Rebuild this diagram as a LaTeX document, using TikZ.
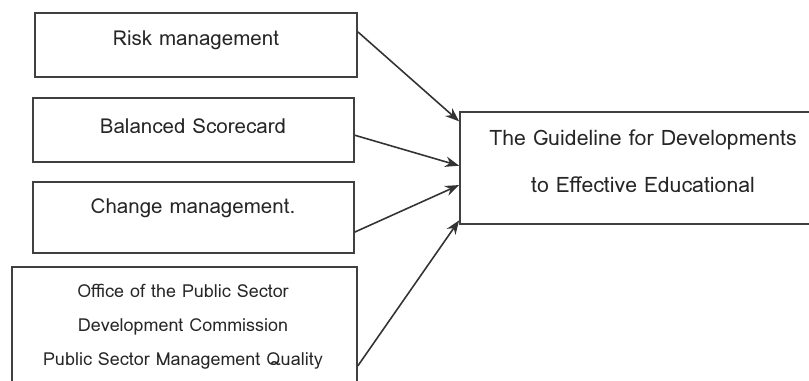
\documentclass[tikz,border=0pt]{standalone}
\usepackage{fontspec}
\setmainfont{Loma}
\usepackage{tikz}
\usetikzlibrary{calc,arrows.meta}

\begin{document}
\begin{tikzpicture}[x=0.02cm,y=-0.02cm,>={Stealth[length=8pt,width=6pt]},
  box/.style={rectangle,draw=black!75,line width=1pt},
  txt/.style={text=black!85,font=\fontsize{11.7}{13}\selectfont},
  link/.style={->,draw=black!80,line width=0.9pt}]
\useasboundingbox (0,0) rectangle (809,381);
% input boxes
\node[box,minimum width=6.44cm,minimum height=1.28cm] (risk) at (196,45) {};
\node[box,minimum width=6.42cm,minimum height=1.28cm] (bsc) at (193.5,130) {};
\node[box,minimum width=6.42cm,minimum height=1.42cm] (change) at (193.5,217.5) {};
\node[box,minimum width=6.9cm,minimum height=2.34cm] (opdc) at (184.5,325.5) {};
% target box
\node[box,minimum width=7.04cm,minimum height=2.24cm] (goal) at (636,168) {};
% texts
\node[txt] (risktxt) at (196,40) {Risk management};
\node[txt] (bsctxt) at (193,126) {Balanced Scorecard};
\node[txt] (changetxt) at (193,208) {Change management.};
\node[txt,align=center,font=\fontsize{10.2}{19.3}\selectfont] (opdctxt) at (183,327)
  {Office of the Public Sector\\Development Commission\\Public Sector Management Quality};
\node[txt,align=center,font=\fontsize{12.1}{26.7}\selectfont] (goaltxt) at (643,161)
  {The Guideline for Developments\\to Effective Educational};
% arrows
\draw[link] ($(risk.north east)!.3!(risk.south east)$) -- ($(goal.north west)!.09!(goal.south west)$);
\draw[link] ($(bsc.north east)!.58!(bsc.south east)$) -- ($(goal.north west)!.48!(goal.south west)$);
\draw[link] ($(change.north east)!.7!(change.south east)$) -- ($(goal.north west)!.65!(goal.south west)$);
\draw[link] ($(opdc.north east)!.84!(opdc.south east)$) -- ($(goal.north west)!.96!(goal.south west)$);
\end{tikzpicture}
\end{document}
